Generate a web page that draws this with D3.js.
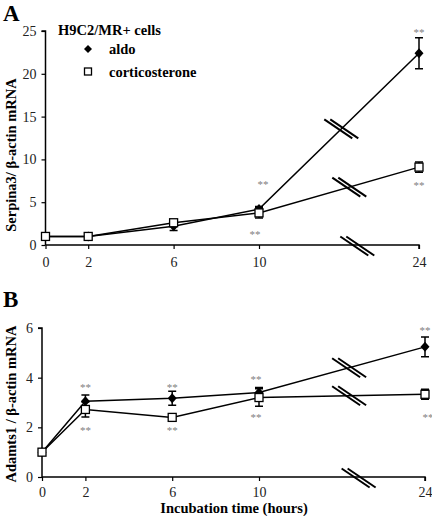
<!DOCTYPE html>
<html><head><meta charset="utf-8">
<script src="https://cdn.jsdelivr.net/npm/d3@7"></script>
<style>body{margin:0;background:#fff}svg{display:block}text{font-family:"Liberation Serif","Times New Roman",serif}</style>
</head><body>
<svg id="c" width="432" height="516"></svg>
<script>
const times = [0, 2, 6, 10, 24];
const xTickLabels = ["0", "2", "6", "10", "24"];
const seriesNames = ["aldo", "corticosterone"];
const aldoA = [1, 1, 2.2, 4.2, 22.4];
const aldoAErr = [0.1, 0.1, 0.5, 0.3, 1.8];
const cortA = [1, 1, 2.6, 3.75, 9.1];
const cortAErr = [0.1, 0.1, 0.3, 0.6, 0.6];
const aldoB = [1, 3.05, 3.17, 3.4, 5.24];
const aldoBErr = [0.05, 0.25, 0.28, 0.2, 0.4];
const cortB = [1, 2.72, 2.4, 3.2, 3.33];
const cortBErr = [0.05, 0.3, 0.05, 0.35, 0.2];
const yTicksA = [0, 5, 10, 15, 20, 25];
const yTicksB = [0, 2, 4, 6];

const svg = d3.select("#c");
const FONT = '"Liberation Serif","Times New Roman",serif';

function panel(cfg) {
  const x = d3.scaleLinear().domain([0, 10, 24]).range(cfg.xr);
  const y = d3.scaleLinear().domain(cfg.yd).range(cfg.yr);
  const g = svg.append("g");
  const ya = g.append("g").attr("transform", `translate(${cfg.xr[0]},0)`)
    .call(d3.axisLeft(y).tickValues(cfg.yTicks).tickFormat(d3.format("d")).tickSize(4).tickPadding(5));
  const xa = g.append("g").attr("transform", `translate(0,${cfg.yr[0]})`)
    .call(d3.axisBottom(x).tickValues(times).tickFormat((d, i) => xTickLabels[i]).tickSize(4).tickPadding(cfg.xpad));
  [ya, xa].forEach(a => {
    a.attr("font-family", FONT);
    a.select(".domain").attr("stroke", "#000").attr("stroke-width", 1.5);
    a.selectAll(".tick line").attr("stroke", "#000").attr("stroke-width", 1.2);
    a.selectAll(".tick text").attr("font-size", 14).attr("fill", "#222");
  });
  ya.select(".domain").attr("d", `M-4,${cfg.yr[1]}H0V${cfg.yr[0]}`);
  xa.select(".domain").attr("d", `M${cfg.xr[0]},0H${cfg.xr[2]}V4`);

  const line = d3.line().x((d, i) => x(times[i])).y(d => y(d));
  const sets = [[cfg.aldo, cfg.aldoErr, "aldo"], [cfg.cort, cfg.cortErr, "cort"]];
  sets.forEach(([vals, errs]) => {
    g.append("path").attr("d", line(vals)).attr("fill", "none").attr("stroke", "#000").attr("stroke-width", 1.5);
    vals.forEach((v, i) => {
      const cx = x(times[i]);
      const e = errs[i];
      if (Math.abs(y(v + e) - y(v)) > 2) {
        const y1 = y(v + e), y2 = y(v - e);
        g.append("path").attr("d", `M${cx},${y1}V${y2}M${cx - 4},${y1}H${cx + 4}M${cx - 4},${y2}H${cx + 4}`)
          .attr("stroke", "#000").attr("stroke-width", 1.5).attr("fill", "none");
      }
    });
  });
  sets.forEach(([vals, errs, kind]) => {
    vals.forEach((v, i) => {
      const cx = x(times[i]), cy = y(v);
      if (kind === "aldo") {
        g.append("path").attr("d", `M${cx},${cy - 5}L${cx + 4.5},${cy}L${cx},${cy + 5}L${cx - 4.5},${cy}Z`).attr("fill", "#000");
      } else {
        g.append("rect").attr("x", cx - 4).attr("y", cy - 4).attr("width", 8).attr("height", 8)
          .attr("fill", "#fff").attr("stroke", "#000").attr("stroke-width", 1.3);
      }
    });
  });
  function brk(px, py) {
    const dx = 14, dy = 9.5;
    [-3, 3].forEach(o => {
      g.append("line").attr("x1", px + o - dx).attr("y1", py - dy).attr("x2", px + o + dx).attr("y2", py + dy)
        .attr("stroke", "#000").attr("stroke-width", 2);
    });
  }
  function onLine(vals, t) {
    const f = (t - 10) / 14;
    return [x(t), y(vals[3] + f * (vals[4] - vals[3]))];
  }
  const pa = onLine(cfg.aldo, cfg.brk[0]); brk(pa[0], pa[1]);
  const pc = onLine(cfg.cort, cfg.brk[1]); brk(pc[0], pc[1]);
  brk(x(cfg.brk[2]), cfg.yr[0] + 1);
  cfg.stars.forEach(s => {
    g.append("text").attr("x", x(s[0]) + s[1]).attr("y", s[2]).attr("text-anchor", "middle")
      .attr("font-size", 11).attr("fill", "#808080").text("**");
  });
  g.append("text").attr("transform", `translate(${cfg.ytx},${cfg.yty}) rotate(-90)`)
    .attr("text-anchor", "middle").attr("font-size", 14.5).attr("font-weight", "bold").text(cfg.ytitle);
  g.append("text").attr("x", cfg.letter[1]).attr("y", cfg.letter[2]).attr("font-size", 23)
    .attr("font-weight", "bold").text(cfg.letter[0]);
  return {x, y, g};
}

panel({
  xr: [45.5, 259, 419], yd: [0, 25], yr: [245, 31], yTicks: yTicksA, xpad: 8,
  aldo: aldoA, aldoErr: aldoAErr, cort: cortA, cortErr: cortAErr,
  brk: [17.2, 17.9, 18.6],
  stars: [[10, 4, 188], [10, -4, 238], [24, 0, 36], [24, 0, 189]],
  ytx: 16, yty: 155, ytitle: "Serpina3/ β-actin mRNA", letter: ["A", 3, 21]
});
panel({
  xr: [42, 259, 425], yd: [0, 6], yr: [477, 328], yTicks: yTicksB, xpad: 6,
  aldo: aldoB, aldoErr: aldoBErr, cort: cortB, cortErr: cortBErr,
  brk: [17.6, 17.6, 18.4],
  stars: [[2, 0, 391], [2, 0, 434], [6, 0, 391], [6, 0, 434], [10, -3, 383], [10, -3, 421], [24, 0, 334], [24, 3, 421]],
  ytx: 16, yty: 404, ytitle: "Adamts1 / β-actin mRNA", letter: ["B", 3, 307]
});

const leg = svg.append("g");
leg.append("text").attr("x", 58).attr("y", 35).attr("font-size", 14.5).attr("font-weight", "bold").text("H9C2/MR+ cells");
leg.append("path").attr("d", "M88,45L92,49L88,53L84,49Z").attr("fill", "#000");
leg.append("text").attr("x", 109).attr("y", 54).attr("font-size", 14.5).attr("font-weight", "bold").text(seriesNames[0]);
leg.append("rect").attr("x", 84.5).attr("y", 68).attr("width", 7).attr("height", 7).attr("fill", "#fff").attr("stroke", "#000").attr("stroke-width", 1.3);
leg.append("text").attr("x", 109).attr("y", 77).attr("font-size", 14.5).attr("font-weight", "bold").text(seriesNames[1]);
svg.append("text").attr("x", 234).attr("y", 513).attr("text-anchor", "middle").attr("font-size", 14.5)
  .attr("font-weight", "bold").text("Incubation time (hours)");
</script>
</body></html>
